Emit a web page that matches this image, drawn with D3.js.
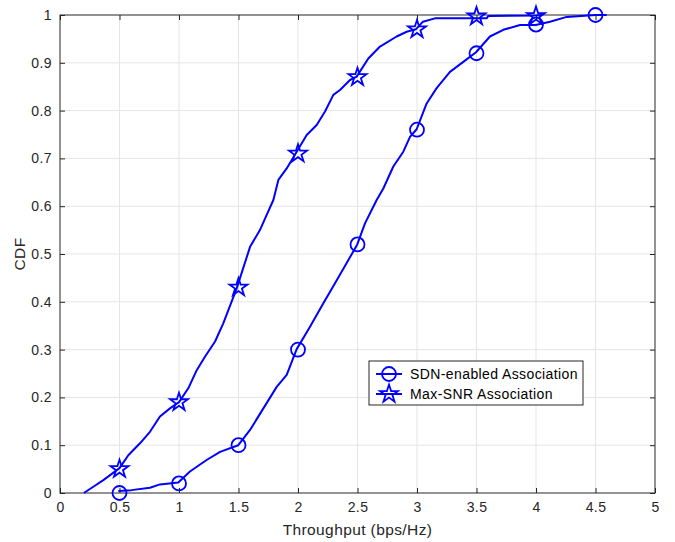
<!DOCTYPE html>
<html><head><meta charset="utf-8">
<script src="https://cdn.jsdelivr.net/npm/d3@7"></script>
<style>body{margin:0;background:#fff}svg{display:block}</style>
</head><body><svg id="c" width="675" height="542"></svg>
<script>
// ---- data ----
const xTicks = [0,0.5,1,1.5,2,2.5,3,3.5,4,4.5,5];
const yTicks = [0,0.1,0.2,0.3,0.4,0.5,0.6,0.7,0.8,0.9,1];
const seriesNames = ["SDN-enabled Association","Max-SNR Association"];
const sdnX = [0.49,0.6,0.756,0.84,0.994,1.092,1.232,1.345,1.498,1.597,1.709,1.821,1.905,1.989,2.101,2.213,2.311,2.409,2.498,2.563,2.661,2.717,2.801,2.885,2.941,2.997,3.081,3.165,3.277,3.389,3.496,3.613,3.725,3.866,3.997,4.118,4.258,4.5,4.594];
const sdnY = [0.004,0.006,0.011,0.018,0.022,0.045,0.069,0.086,0.1,0.132,0.177,0.222,0.247,0.301,0.348,0.397,0.439,0.481,0.52,0.564,0.613,0.637,0.683,0.714,0.745,0.761,0.815,0.847,0.881,0.902,0.922,0.955,0.969,0.979,0.979,0.986,0.996,1.0,1.0];
const snrX = [0.2,0.28,0.364,0.5,0.574,0.672,0.756,0.84,0.924,1.0,1.078,1.149,1.218,1.303,1.372,1.485,1.597,1.68,1.737,1.793,1.835,1.905,1.989,2.073,2.157,2.227,2.297,2.353,2.437,2.493,2.591,2.689,2.829,2.913,2.99,3.05,3.15,3.5,3.585,3.6,4.0,4.05];
const snrY = [0.0,0.013,0.027,0.052,0.079,0.104,0.128,0.16,0.177,0.19,0.219,0.257,0.285,0.317,0.355,0.428,0.515,0.55,0.582,0.613,0.655,0.679,0.714,0.749,0.77,0.798,0.833,0.843,0.864,0.871,0.909,0.934,0.955,0.965,0.97,0.986,0.993,0.993,0.993,0.998,0.999,1.0];
const sdnMarkX = [0.5,1,1.5,2,2.5,3,3.5,4,4.5];
const sdnMarkY = [0.0,0.02,0.10,0.30,0.52,0.76,0.92,0.98,1.0];
const snrMarkX = [0.5,1,1.5,2,2.5,3,3.5,4];
const snrMarkY = [0.05,0.19,0.43,0.71,0.87,0.97,0.997,0.998];

// ---- layout ----
const svg = d3.select("#c");
const L=60,R=655,T=15,B=493;
const x = d3.scaleLinear().domain([0,5]).range([L,R]);
const y = d3.scaleLinear().domain([0,1]).range([B,T]);
const blue="#0000ff", axc="#262626", font="'Liberation Sans', Arial, sans-serif";

// grid
svg.append("g").selectAll("line").data(xTicks.slice(1,-1)).join("line")
  .attr("x1",d=>x(d)).attr("x2",d=>x(d)).attr("y1",T).attr("y2",B)
  .attr("stroke","#e5e5e5").attr("stroke-width",1);
svg.append("g").selectAll("line").data(yTicks.slice(1,-1)).join("line")
  .attr("y1",d=>y(d)).attr("y2",d=>y(d)).attr("x1",L).attr("x2",R)
  .attr("stroke","#e5e5e5").attr("stroke-width",1);

// axes
const fmt = d=>String(d);
function styleAxis(g){g.select(".domain").remove();g.selectAll("line").attr("stroke",axc);
  g.selectAll("text").attr("fill",axc).style("font-family",font).style("font-size","14px").style("letter-spacing","0.4px");}
svg.append("g").attr("transform",`translate(0,${B})`)
  .call(d3.axisBottom(x).tickValues(xTicks).tickFormat(fmt).tickSize(-5).tickPadding(9)).call(styleAxis);
svg.append("g").attr("transform",`translate(0,${T})`)
  .call(d3.axisTop(x).tickValues(xTicks).tickFormat("").tickSize(-5)).call(styleAxis);
svg.append("g").attr("transform",`translate(${L},0)`)
  .call(d3.axisLeft(y).tickValues(yTicks).tickFormat(fmt).tickSize(-5).tickPadding(8)).call(styleAxis);
svg.append("g").attr("transform",`translate(${R},0)`)
  .call(d3.axisRight(y).tickValues(yTicks).tickFormat("").tickSize(-5)).call(styleAxis);
svg.append("rect").attr("x",L).attr("y",T).attr("width",R-L).attr("height",B-T)
  .attr("fill","none").attr("stroke",axc).attr("stroke-width",1);

// labels
svg.append("text").attr("x",(L+R)/2).attr("y",535).attr("text-anchor","middle")
  .attr("fill",axc).style("font-family",font).style("font-size","15.5px").style("letter-spacing","0.4px").text("Throughput (bps/Hz)");
svg.append("text").attr("transform",`translate(25,${(T+B)/2}) rotate(-90)`).attr("text-anchor","middle")
  .attr("fill",axc).style("font-family",font).style("font-size","15.5px").style("letter-spacing","0.4px").text("CDF");

// lines
const line = d3.line().x(d=>x(d[0])).y(d=>y(d[1]));
const sdnPts = sdnX.map((v,i)=>[v,sdnY[i]]);
const snrPts = snrX.map((v,i)=>[v,snrY[i]]);
[sdnPts,snrPts].forEach(p=>svg.append("path").datum(p).attr("d",line)
  .attr("fill","none").attr("stroke",blue).attr("stroke-width",2).attr("stroke-linejoin","round"));

const star = d3.symbol().type(d3.symbolStar).size(100);
function circles(g,pts){g.selectAll("circle.m").data(pts).join("circle").attr("class","m")
  .attr("cx",d=>x(d[0])).attr("cy",d=>y(d[1])).attr("r",7)
  .attr("fill","none").attr("stroke",blue).attr("stroke-width",1.8);}
function stars(g,pts){g.selectAll("path.m").data(pts).join("path").attr("class","m")
  .attr("transform",d=>`translate(${x(d[0])},${y(d[1])})`).attr("d",star)
  .attr("fill","none").attr("stroke",blue).attr("stroke-width",1.8);}
circles(svg.append("g"), sdnMarkX.map((v,i)=>[v,sdnMarkY[i]]));
stars(svg.append("g"), snrMarkX.map((v,i)=>[v,snrMarkY[i]]));

// legend
const lg = svg.append("g");
lg.append("rect").attr("x",369).attr("y",361).attr("width",214).attr("height",44)
  .attr("fill","#fff").attr("stroke",axc).attr("stroke-width",1);
seriesNames.forEach((n,i)=>{
  const yy = 374 + i*20;
  lg.append("line").attr("x1",376).attr("x2",402).attr("y1",yy).attr("y2",yy)
    .attr("stroke",blue).attr("stroke-width",2);
  if(i===0) lg.append("circle").attr("cx",389).attr("cy",yy).attr("r",7)
    .attr("fill","none").attr("stroke",blue).attr("stroke-width",1.8);
  else lg.append("path").attr("transform",`translate(389,${yy})`).attr("d",star)
    .attr("fill","none").attr("stroke",blue).attr("stroke-width",1.8);
  lg.append("text").attr("x",410).attr("y",yy+5).attr("fill","#000")
    .style("font-family",font).style("font-size","14px").style("letter-spacing","0.4px").text(n);
});
</script></body></html>
